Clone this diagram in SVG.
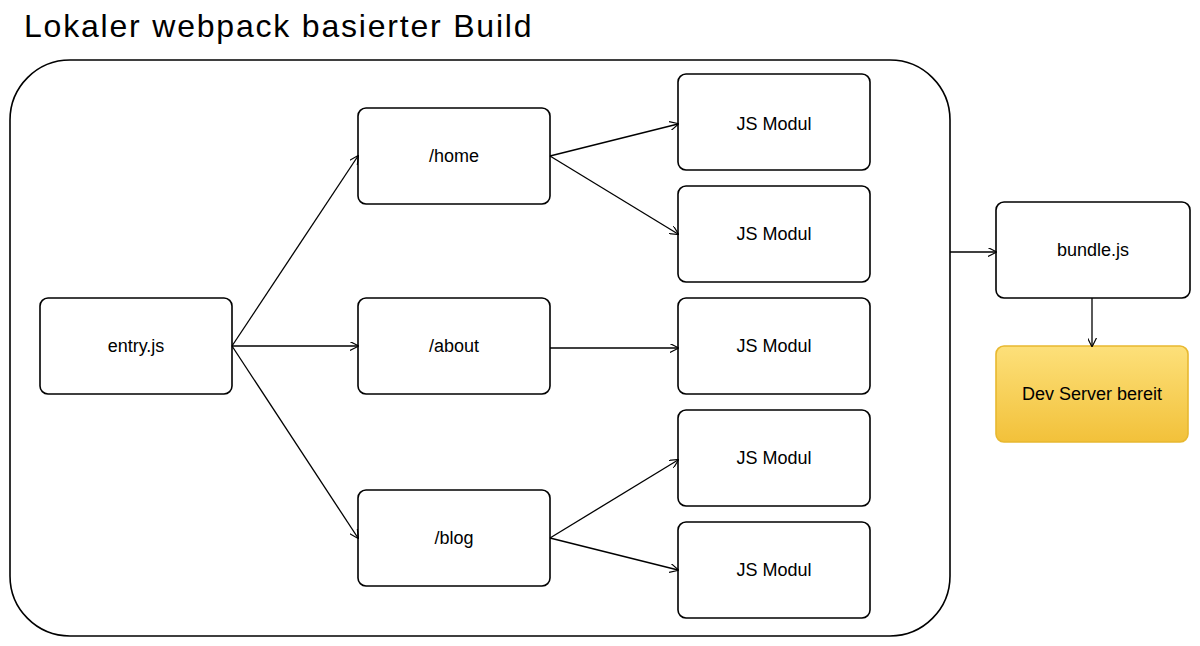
<svg xmlns="http://www.w3.org/2000/svg" width="1200" height="646" viewBox="0 0 1200 646">
<defs>
<marker id="ah" viewBox="0 0 10 10" refX="9" refY="5" markerWidth="9" markerHeight="9" orient="auto" markerUnits="userSpaceOnUse"><path d="M0,0 L10,5 L0,10" fill="none" stroke="#000" stroke-width="1.3"/></marker>
<linearGradient id="yg" x1="0" y1="0" x2="0" y2="1"><stop offset="0" stop-color="#fde07a"/><stop offset="1" stop-color="#f2c13a"/></linearGradient>
<style>
.n{fill:#fff;stroke:#000;stroke-width:1.6}
.t{font-family:"Liberation Sans",Arial,sans-serif;font-size:18px;text-anchor:middle;dominant-baseline:central;fill:#000}
.c{fill:none;stroke:#000;stroke-width:1.3;marker-end:url(#ah)}
</style>
</defs>
<rect width="1200" height="646" fill="#fff"/>
<text x="24" y="37" font-family="Liberation Sans,Arial,sans-serif" font-size="32" letter-spacing="1.8" fill="#000">Lokaler webpack basierter Build</text>
<g id="container"><rect x="10" y="60" width="940" height="576" rx="60" fill="none" stroke="#000" stroke-width="1.6"/></g>
<g id="entry"><rect class="n" x="40" y="298" width="192" height="96" rx="8"/><text class="t" x="136" y="346">entry.js</text></g>
<g id="home"><rect class="n" x="358" y="108" width="192" height="96" rx="8"/><text class="t" x="454" y="156">/home</text></g>
<g id="about"><rect class="n" x="358" y="298" width="192" height="96" rx="8"/><text class="t" x="454" y="346">/about</text></g>
<g id="blog"><rect class="n" x="358" y="490" width="192" height="96" rx="8"/><text class="t" x="454" y="538">/blog</text></g>
<g id="m1"><rect class="n" x="678" y="74" width="192" height="96" rx="8"/><text class="t" x="774" y="124">JS Modul</text></g>
<g id="m2"><rect class="n" x="678" y="186" width="192" height="96" rx="8"/><text class="t" x="774" y="234">JS Modul</text></g>
<g id="m3"><rect class="n" x="678" y="298" width="192" height="96" rx="8"/><text class="t" x="774" y="346">JS Modul</text></g>
<g id="m4"><rect class="n" x="678" y="410" width="192" height="96" rx="8"/><text class="t" x="774" y="458">JS Modul</text></g>
<g id="m5"><rect class="n" x="678" y="522" width="192" height="96" rx="8"/><text class="t" x="774" y="570">JS Modul</text></g>
<g id="bundle"><rect class="n" x="996" y="202" width="194" height="96" rx="8"/><text class="t" x="1093" y="250">bundle.js</text></g>
<g id="dev"><rect x="996" y="346" width="192" height="96" rx="8" fill="url(#yg)" stroke="#e8b830" stroke-width="1.6"/><text class="t" x="1092" y="394">Dev Server bereit</text></g>
<g id="connectors">
<path class="c" d="M232,346 L358,156"/>
<path class="c" d="M232,346 L358,346"/>
<path class="c" d="M232,346 L358,538"/>
<path class="c" d="M550,156 L678,124"/>
<path class="c" d="M550,156 L678,234"/>
<path class="c" d="M550,348 L678,348"/>
<path class="c" d="M550,538 L678,460"/>
<path class="c" d="M550,538 L678,570"/>
<path class="c" d="M950,252 L996,252"/>
<path class="c" d="M1092,298 L1092,346"/>
</g>
</svg>
